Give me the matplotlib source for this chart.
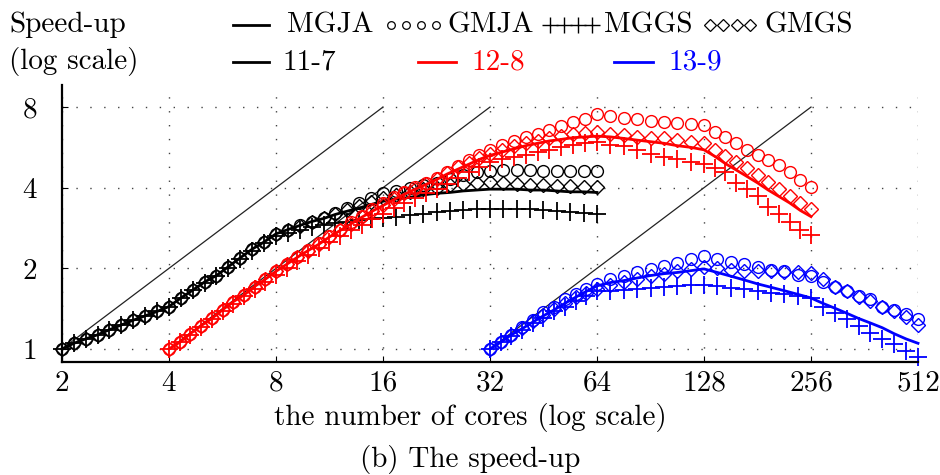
import matplotlib
matplotlib.use("Agg")
import matplotlib.pyplot as plt
from matplotlib.lines import Line2D
from matplotlib.ticker import FixedLocator, FixedFormatter, NullLocator

plt.rcParams["font.family"] = ["cmr10", "DejaVu Serif"]
plt.rcParams["font.size"] = 21

# -----------------------------
# Data
# -----------------------------
cores_11_7 = [2, 2.16, 2.33, 2.52, 2.72, 2.94, 3.17, 3.43, 3.70,
              4, 4.32, 4.67, 5.04, 5.44, 5.88, 6.35, 6.86, 7.41,
              8, 8.64, 9.33, 10.08, 10.89, 11.76, 12.70, 13.72, 14.81,
              16, 17.45, 19.03, 20.75, 22.63, 24.68, 26.91, 29.34,
              32, 34.90, 38.05, 41.50, 45.25, 49.35, 53.82, 58.69, 64]
cores_12_8 = [4, 4.29, 4.59, 4.92, 5.28, 5.66, 6.06, 6.50, 6.96, 7.46,
              8, 8.57, 9.19, 9.85, 10.56, 11.31, 12.13, 13.00, 13.93, 14.93,
              16, 17.15, 18.38, 19.70, 21.11, 22.63, 24.25, 25.99, 27.86, 29.86,
              32, 34.56, 37.33, 40.32, 43.55, 47.03, 50.80, 54.86, 59.25,
              64, 69.79, 76.11, 83.00, 90.51, 98.70, 107.63, 117.38,
              128, 137.19, 147.03, 157.59, 168.90, 181.02, 194.01, 207.94,
              222.86, 238.86, 256]
cores_13_9 = [32, 34.30, 36.76, 39.40, 42.22, 45.25, 48.50, 51.98, 55.72, 59.71,
              64, 69.79, 76.11, 83.00, 90.51, 98.70, 107.63, 117.38,
              128, 139.58, 152.22, 166.00, 181.02, 197.40, 215.27, 234.75,
              256, 276.5, 298.6, 322.5, 348.4, 376.2, 406.4, 438.9, 474.0, 512]

# speed-up, problem 11-7
mgja_11_7 = [1.00, 1.05, 1.09, 1.13, 1.18, 1.23, 1.28, 1.33, 1.38,
             1.44, 1.55, 1.66, 1.78, 1.88, 2.03, 2.19, 2.36, 2.51,
             2.69, 2.79, 2.89, 2.99, 3.07, 3.18, 3.27, 3.36, 3.46,
             3.56, 3.63, 3.68, 3.76, 3.81, 3.84, 3.89, 3.92,
             3.95, 3.95, 3.95, 3.92, 3.92, 3.89, 3.86, 3.86, 3.84]
gmja_11_7 = [1.00, 1.05, 1.09, 1.13, 1.18, 1.23, 1.28, 1.33, 1.38,
             1.44, 1.55, 1.66, 1.78, 1.88, 2.03, 2.19, 2.36, 2.51,
             2.69, 2.79, 2.91, 2.99, 3.07, 3.23, 3.36, 3.51, 3.66,
             3.81, 3.89, 4.00, 4.08, 4.17, 4.32, 4.47, 4.56,
             4.63, 4.66, 4.66, 4.66, 4.63, 4.63, 4.63, 4.63, 4.63]
mggs_11_7 = [1.00, 1.05, 1.09, 1.13, 1.18, 1.23, 1.28, 1.33, 1.38,
             1.44, 1.55, 1.66, 1.77, 1.87, 2.01, 2.16, 2.33, 2.48,
             2.64, 2.71, 2.79, 2.85, 2.91, 2.95, 2.99, 3.03, 3.05,
             3.07, 3.12, 3.16, 3.20, 3.25, 3.27, 3.29, 3.32,
             3.34, 3.34, 3.34, 3.32, 3.29, 3.27, 3.25, 3.23, 3.20]
gmgs_11_7 = [1.00, 1.05, 1.09, 1.13, 1.18, 1.23, 1.28, 1.33, 1.38,
             1.44, 1.55, 1.66, 1.78, 1.88, 2.03, 2.19, 2.36, 2.51,
             2.69, 2.79, 2.89, 2.99, 3.07, 3.18, 3.29, 3.41, 3.53,
             3.66, 3.76, 3.86, 3.95, 4.00, 4.08, 4.14, 4.17,
             4.20, 4.17, 4.14, 4.11, 4.08, 4.06, 4.06, 4.03, 4.03]

# speed-up, problem 12-8
mgja_12_8 = [1.00, 1.06, 1.14, 1.22, 1.30, 1.40, 1.50, 1.59, 1.71, 1.82,
             1.95, 2.07, 2.20, 2.33, 2.46, 2.62, 2.77, 2.93, 3.10, 3.27,
             3.43, 3.61, 3.78, 3.95, 4.11, 4.29, 4.50, 4.69, 4.89, 5.10,
             5.28, 5.43, 5.58, 5.74, 5.86, 5.98, 6.06, 6.15, 6.19,
             6.23, 6.19, 6.11, 6.02, 5.94, 5.86, 5.74, 5.66,
             5.54, 5.24, 4.92, 4.66, 4.41, 4.17, 3.92, 3.71, 3.51, 3.29, 3.12]
gmja_12_8 = [1.00, 1.06, 1.14, 1.22, 1.30, 1.40, 1.50, 1.59, 1.71, 1.82,
             1.95, 2.07, 2.20, 2.35, 2.48, 2.64, 2.79, 2.97, 3.14, 3.32,
             3.51, 3.68, 3.86, 4.03, 4.17, 4.35, 4.56, 4.82, 5.06, 5.31,
             5.54, 5.78, 5.98, 6.19, 6.36, 6.59, 6.82, 7.01, 7.21,
             7.52, 7.41, 7.31, 7.21, 7.11, 7.01, 6.96, 6.92,
             6.87, 6.45, 6.19, 5.86, 5.54, 5.28, 5.06, 4.86, 4.59, 4.26, 4.03]
mggs_12_8 = [1.00, 1.06, 1.13, 1.21, 1.29, 1.38, 1.47, 1.57, 1.67, 1.78,
             1.89, 2.01, 2.13, 2.25, 2.38, 2.50, 2.64, 2.77, 2.91, 3.05,
             3.20, 3.36, 3.51, 3.66, 3.81, 3.97, 4.14, 4.35, 4.56, 4.79,
             4.99, 5.10, 5.21, 5.31, 5.43, 5.54, 5.66, 5.78, 5.86,
             5.94, 5.78, 5.70, 5.54, 5.35, 5.21, 5.10, 4.99,
             4.92, 4.72, 4.56, 4.17, 3.97, 3.71, 3.39, 3.20, 2.99, 2.77, 2.66]
gmgs_12_8 = [1.00, 1.06, 1.14, 1.22, 1.30, 1.40, 1.50, 1.59, 1.71, 1.82,
             1.95, 2.07, 2.20, 2.33, 2.46, 2.62, 2.77, 2.93, 3.10, 3.27,
             3.46, 3.63, 3.81, 3.97, 4.14, 4.32, 4.53, 4.76, 4.96, 5.17,
             5.35, 5.54, 5.70, 5.86, 5.98, 6.11, 6.23, 6.32, 6.41,
             6.45, 6.36, 6.28, 6.19, 6.15, 6.11, 6.02, 5.94,
             5.86, 5.54, 5.24, 4.99, 4.72, 4.47, 4.20, 3.97, 3.71, 3.51, 3.32]

# speed-up, problem 13-9
mgja_13_9 = [1.00, 1.06, 1.13, 1.19, 1.26, 1.33, 1.40, 1.48, 1.56, 1.64,
             1.72, 1.77, 1.80, 1.84, 1.88, 1.91, 1.93, 1.96,
             1.99, 1.93, 1.87, 1.81, 1.75, 1.70, 1.65, 1.60,
             1.55, 1.48, 1.42, 1.36, 1.30, 1.25, 1.20, 1.14, 1.09, 1.05]
gmja_13_9 = [1.00, 1.06, 1.13, 1.21, 1.28, 1.37, 1.44, 1.53, 1.60, 1.68,
             1.75, 1.82, 1.87, 1.93, 1.99, 2.04, 2.10, 2.16,
             2.23, 2.17, 2.11, 2.07, 2.03, 1.97, 1.95, 1.89,
             1.87, 1.78, 1.71, 1.64, 1.57, 1.53, 1.44, 1.40, 1.35, 1.29]
mggs_13_9 = [1.00, 1.06, 1.12, 1.18, 1.25, 1.31, 1.38, 1.44, 1.51, 1.57,
             1.64, 1.65, 1.66, 1.68, 1.69, 1.71, 1.72, 1.73,
             1.73, 1.72, 1.69, 1.67, 1.65, 1.62, 1.60, 1.57,
             1.55, 1.44, 1.36, 1.29, 1.22, 1.15, 1.09, 1.04, 0.98, 0.93]
gmgs_13_9 = [1.00, 1.06, 1.13, 1.20, 1.27, 1.34, 1.41, 1.48, 1.56, 1.62,
             1.68, 1.73, 1.78, 1.83, 1.87, 1.91, 1.95, 1.99,
             2.03, 2.00, 1.97, 1.96, 1.95, 1.95, 1.93, 1.93,
             1.92, 1.82, 1.71, 1.64, 1.56, 1.51, 1.43, 1.38, 1.32, 1.23]

# ideal speed-up lines (start and end core counts)
ideal_cores = [[2, 16], [4, 32], [32, 256]]
ideal_speedup = [1, 8]

x_ticks = [2, 4, 8, 16, 32, 64, 128, 256, 512]
y_ticks = [1, 2, 4, 8]

groups = [
    ("11-7", "black", cores_11_7, mgja_11_7, gmja_11_7, mggs_11_7, gmgs_11_7),
    ("12-8", "red", cores_12_8, mgja_12_8, gmja_12_8, mggs_12_8, gmgs_12_8),
    ("13-9", "blue", cores_13_9, mgja_13_9, gmja_13_9, mggs_13_9, gmgs_13_9),
]

W, H = 940, 475


def fx(px):
    return px / W


def fy(py):
    return 1 - py / H


fig = plt.figure(figsize=(W / 100, H / 100), dpi=100)
ax = fig.add_axes([fx(62), fy(362), (918 - 62) / W, (362 - 85) / H])

# ideal lines
for xs in ideal_cores:
    ax.plot(xs, ideal_speedup, color="#222222", lw=0.9, clip_on=False)

for name, col, cores, mgja, gmja, mggs, gmgs in groups:
    ax.plot(cores, gmgs, ls="none", marker="D", ms=7.5, mfc="none",
            mec=col, mew=1.0, clip_on=False)
    ax.plot(cores, mggs, ls="none", marker="+", ms=13, mec=col,
            mew=1.3, clip_on=False)
    ax.plot(cores, gmja, ls="none", marker="o", ms=8.5, mfc="none",
            mec=col, mew=1.0, clip_on=False)
    ax.plot(cores, mgja, color=col, lw=2.0, clip_on=False)

ax.set_xscale("log", base=2)
ax.set_yscale("log", base=2)
ax.set_xlim(2, 512)
ax.set_ylim(0.894, 9.67)
ax.xaxis.set_major_locator(FixedLocator(x_ticks))
ax.xaxis.set_major_formatter(FixedFormatter([str(v) for v in x_ticks]))
ax.yaxis.set_major_locator(FixedLocator(y_ticks))
ax.yaxis.set_major_formatter(FixedFormatter([str(v) for v in y_ticks]))
ax.xaxis.set_minor_locator(NullLocator())
ax.yaxis.set_minor_locator(NullLocator())

ax.grid(True, color="#444444", ls=(0, (1, 9)), lw=1.0)
for side in ["top", "right"]:
    ax.spines[side].set_visible(False)
for side in ["left", "bottom"]:
    ax.spines[side].set_linewidth(1.6)
ax.tick_params(axis="x", direction="in", length=4, width=0.8, pad=6,
               labelsize=21)
ax.tick_params(axis="y", direction="in", length=4, width=0.8, pad=18,
               labelsize=21)

fig.text(0.5, fy(418), "the number of cores (log scale)", ha="center",
         va="center", fontsize=21)
fig.text(0.5, fy(460), "(b) The speed-up", ha="center", va="center",
         fontsize=21)

# header legend
row1, row2 = 25, 62
fig.text(fx(9), fy(row1), "Speed-up", ha="left", va="center", fontsize=21)
fig.text(fx(9), fy(row2), "(log scale)", ha="left", va="center", fontsize=21)


def sample(xs, y, **kw):
    fig.add_artist(Line2D([fx(v) for v in xs], [fy(y)] * len(xs),
                          transform=fig.transFigure, **kw))


sample([233, 269], row1, color="black", lw=2.0)
fig.text(fx(287), fy(row1), "MGJA", va="center", fontsize=21)
sample([391, 406, 421, 436], row1, ls="none", marker="o", ms=5.5,
       mfc="none", mec="black", mew=0.9)
fig.text(fx(447), fy(row1), "GMJA", va="center", fontsize=21)
sample([550, 564, 578, 592], row1, ls="none", marker="+", ms=11,
       mec="black", mew=1.0)
fig.text(fx(604), fy(row1), "MGGS", va="center", fontsize=21)
sample([710, 723, 737, 750], row1, ls="none", marker="D", ms=6,
       mfc="none", mec="black", mew=0.9)
fig.text(fx(764), fy(row1), "GMGS", va="center", fontsize=21)

sample([233, 269], row2, color="black", lw=2.0)
fig.text(fx(282), fy(row2), "11-7", va="center", fontsize=21)
sample([418, 456], row2, color="red", lw=2.0)
fig.text(fx(471), fy(row2), "12-8", va="center", fontsize=21, color="red")
sample([614, 653], row2, color="blue", lw=2.0)
fig.text(fx(668), fy(row2), "13-9", va="center", fontsize=21, color="blue")

fig.savefig("out.png", dpi=100)
